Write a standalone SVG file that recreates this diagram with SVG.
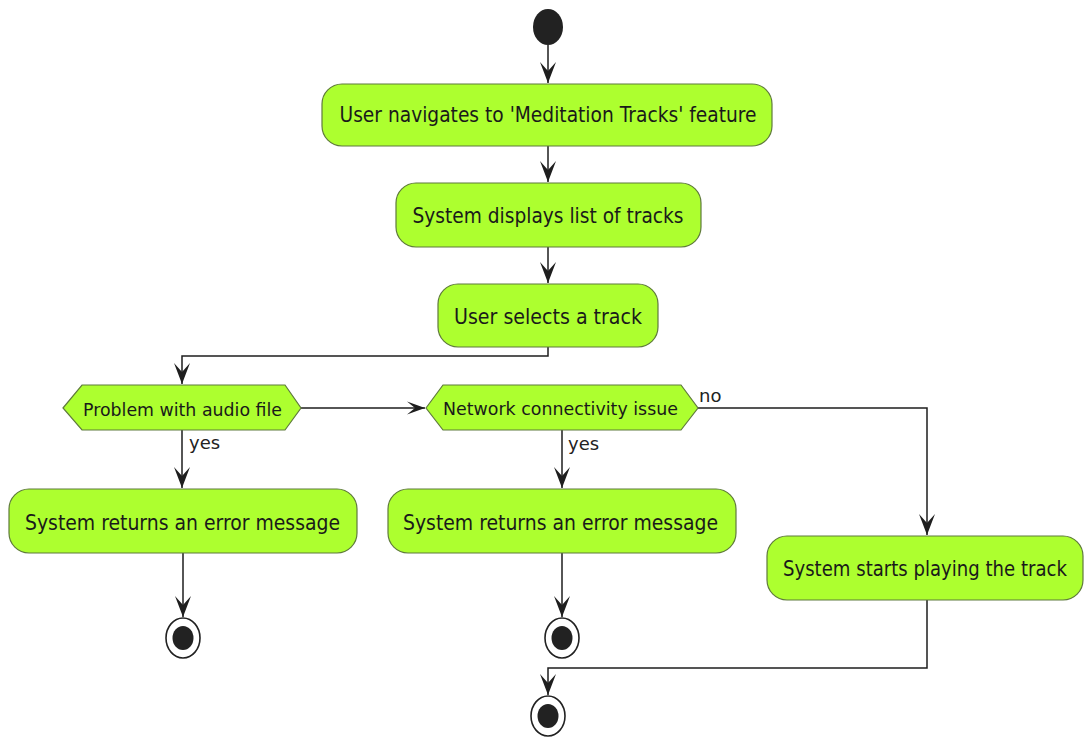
<svg xmlns="http://www.w3.org/2000/svg" width="1086" height="738" viewBox="0 0 1086 738">
<style>
.act{fill:#ADFF2F;stroke:#5f7a3c;stroke-width:1.2}
.t{font-family:"DejaVu Sans","Liberation Sans",sans-serif;fill:#1a1a1a}
.big{font-size:21px}
.mid{font-size:18px}
.lbl{font-size:18px;fill:#222}
.ln{fill:none;stroke:#1e1e1e;stroke-width:1.5}
.endo{fill:#fff;stroke:#222;stroke-width:1.6}
.endi{fill:#222}
</style>
<defs>
<marker id="av" markerUnits="userSpaceOnUse" viewBox="-22 -9 23 18" refX="0" refY="0" markerWidth="23" markerHeight="18" orient="auto">
<path d="M0,0 L-21,-8 L-12,0 L-21,8 Z" fill="#1e1e1e"/>
</marker>
<marker id="ah" markerUnits="userSpaceOnUse" viewBox="-19 -8 20 16" refX="0" refY="0" markerWidth="20" markerHeight="16" orient="auto">
<path d="M0,0 L-18,-6.5 L-10,0 L-18,6.5 Z" fill="#1e1e1e"/>
</marker>
</defs>
<rect width="1086" height="738" fill="#fff"/>

<g id="connectors">
<path class="ln" d="M548,45 V83" marker-end="url(#av)"/>
<path class="ln" d="M548,146 V182" marker-end="url(#av)"/>
<path class="ln" d="M548,247 V283" marker-end="url(#av)"/>
<path class="ln" d="M548,347 V356 H182 V384" marker-end="url(#av)"/>
<path class="ln" d="M301,408 H425" marker-end="url(#ah)"/>
<path class="ln" d="M182,430 V488" marker-end="url(#av)"/>
<path class="ln" d="M562,430 V488" marker-end="url(#av)"/>
<path class="ln" d="M698,408 H927 V535" marker-end="url(#av)"/>
<path class="ln" d="M183,553 V617" marker-end="url(#av)"/>
<path class="ln" d="M562,553 V617" marker-end="url(#av)"/>
<path class="ln" d="M927,600 V668 H548 V695" marker-end="url(#av)"/>
<text class="t lbl" x="189" y="449">yes</text>
<text class="t lbl" x="568" y="450">yes</text>
<text class="t lbl" x="699" y="402">no</text>
</g>

<g id="start">
<ellipse cx="548" cy="27" rx="15" ry="18" fill="#222"/>
</g>

<g id="a1">
<rect class="act" x="322" y="84" width="450" height="62" rx="20" ry="20"/>
<text class="t big" x="548" y="122" text-anchor="middle" textLength="417" lengthAdjust="spacingAndGlyphs">User navigates to 'Meditation Tracks' feature</text>
</g>

<g id="a2">
<rect class="act" x="396" y="183" width="305" height="64" rx="20" ry="20"/>
<text class="t big" x="548" y="223" text-anchor="middle" textLength="271" lengthAdjust="spacingAndGlyphs">System displays list of tracks</text>
</g>

<g id="a3">
<rect class="act" x="438" y="284" width="220" height="63" rx="20" ry="20"/>
<text class="t big" x="548" y="324" text-anchor="middle" textLength="188" lengthAdjust="spacingAndGlyphs">User selects a track</text>
</g>

<g id="d1">
<polygon class="act" points="63,408 82,385 285,385 301,408 285,430 82,430"/>
<text class="t mid" x="182.5" y="416" text-anchor="middle" textLength="199" lengthAdjust="spacingAndGlyphs">Problem with audio file</text>
</g>

<g id="d2">
<polygon class="act" points="426,408 443,385 681,385 698,408 681,430 443,430"/>
<text class="t mid" x="560.5" y="415" text-anchor="middle" textLength="235" lengthAdjust="spacingAndGlyphs">Network connectivity issue</text>
</g>

<g id="a4">
<rect class="act" x="9" y="489" width="348" height="64" rx="20" ry="20"/>
<text class="t big" x="182.5" y="530" text-anchor="middle" textLength="315" lengthAdjust="spacingAndGlyphs">System returns an error message</text>
</g>

<g id="a5">
<rect class="act" x="388" y="489" width="348" height="64" rx="20" ry="20"/>
<text class="t big" x="560.5" y="530" text-anchor="middle" textLength="315" lengthAdjust="spacingAndGlyphs">System returns an error message</text>
</g>

<g id="a6">
<rect class="act" x="767" y="536" width="316" height="64" rx="20" ry="20"/>
<text class="t" font-size="19" transform="translate(925,576) scale(1,1.1)" x="0" y="0" text-anchor="middle" textLength="284" lengthAdjust="spacingAndGlyphs">System starts playing the track</text>
</g>

<g id="end1">
<ellipse class="endo" cx="183" cy="638" rx="17" ry="20"/>
<ellipse class="endi" cx="183" cy="638" rx="10.5" ry="12"/>
</g>
<g id="end2">
<ellipse class="endo" cx="562" cy="638" rx="17" ry="20"/>
<ellipse class="endi" cx="562" cy="638" rx="10.5" ry="12"/>
</g>
<g id="end3">
<ellipse class="endo" cx="548" cy="716" rx="17" ry="20"/>
<ellipse class="endi" cx="548" cy="716" rx="10.5" ry="12"/>
</g>
</svg>
